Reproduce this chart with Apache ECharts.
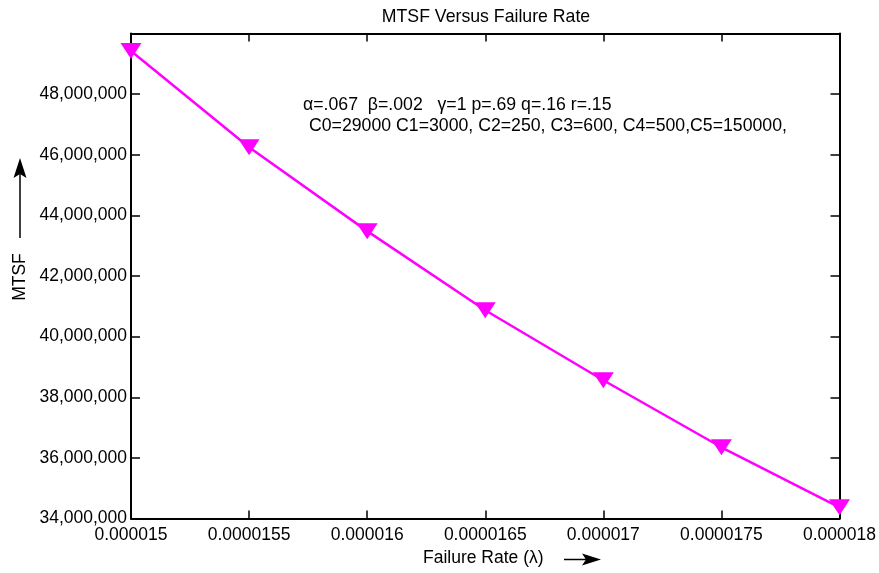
<!DOCTYPE html>
<html>
<head>
<meta charset="utf-8">
<script src="https://cdn.jsdelivr.net/npm/echarts@6/dist/echarts.min.js"></script>
<style>
  html, body { margin: 0; padding: 0; background: #fff; }
  #chart { width: 879px; height: 573px; }
</style>
</head>
<body>
<div id="chart"></div>
<script>
// Failure rate (lambda) values on the x axis
const failureRates = [0.000015, 0.0000155, 0.000016, 0.0000165, 0.000017, 0.0000175, 0.000018];
// Mean time to system failure for each failure rate
const mtsfValues = [49420000, 46250000, 43480000, 40870000, 38560000, 36350000, 34370000];

// Axis ranges and tick spacing
const xRange = [0.000015, 0.000018, 0.0000005];
const yRange = [34000000, 50000000, 2000000];

const titleText = 'MTSF Versus Failure Rate';
const paramLine1 = '\u03b1=.067  \u03b2=.002   \u03b3=1 p=.69 q=.16 r=.15';
const paramLine2 = 'C0=29000 C1=3000, C2=250, C3=600, C4=500,C5=150000,';
const xName = 'Failure Rate (\u03bb)';
const yName = 'MTSF';

const FONT = '"Liberation Sans", Arial, sans-serif';
const FS = 17.5;

function fmtX(v) {
  return v.toFixed(7).replace(/0+$/, '');
}
function fmtY(v) {
  if (v >= yRange[1]) return '';
  return Math.round(v).toLocaleString('en-US');
}

const chart = echarts.init(document.getElementById('chart'), null, { renderer: 'canvas' });

const grid = { left: 131, right: 39, top: 33.5, bottom: 54.5 };

const baseXAxis = {
  type: 'value',
  min: xRange[0],
  max: xRange[1],
  interval: xRange[2],
  splitLine: { show: false },
  axisLine: { show: true, lineStyle: { color: '#000', width: 2 } },
  axisTick: { show: true, inside: true, length: 8, lineStyle: { color: '#000', width: 1.5 } }
};
const baseYAxis = {
  type: 'value',
  min: yRange[0],
  max: yRange[1],
  interval: yRange[2],
  splitLine: { show: false },
  axisLine: { show: true, lineStyle: { color: '#000', width: 2 } },
  axisTick: { show: true, inside: true, length: 9, lineStyle: { color: '#000', width: 1.5 } }
};

chart.setOption({
  backgroundColor: '#fff',
  animation: false,
  title: {
    text: titleText,
    left: 481,
    textAlign: 'center',
    top: 3,
    textStyle: { fontFamily: FONT, fontSize: 17.7, fontWeight: 'normal', color: '#000' }
  },
  grid: grid,
  xAxis: [
    Object.assign({}, baseXAxis, {
      position: 'bottom',
      axisLabel: {
        show: true, margin: 8, color: '#000', fontFamily: FONT, fontSize: FS,
        showMinLabel: true, showMaxLabel: true, formatter: fmtX
      }
    }),
    Object.assign({}, baseXAxis, {
      position: 'top',
      axisLabel: { show: false }
    })
  ],
  yAxis: [
    Object.assign({}, baseYAxis, {
      position: 'left',
      axisLabel: {
        show: true, margin: 4, color: '#000', fontFamily: FONT, fontSize: FS,
        showMinLabel: true, showMaxLabel: true, formatter: fmtY
      }
    }),
    Object.assign({}, baseYAxis, {
      position: 'right',
      axisLabel: { show: false }
    })
  ],
  series: [{
    type: 'line',
    xAxisIndex: 0,
    yAxisIndex: 0,
    data: failureRates.map((x, i) => [x, mtsfValues[i]]),
    symbol: 'triangle',
    symbolRotate: 180,
    symbolSize: [21, 16],
    showAllSymbol: true,
    clip: false,
    lineStyle: { color: '#ff00ff', width: 2.5 },
    itemStyle: { color: '#ff00ff', borderWidth: 0 },
    z: 3
  }],
  graphic: [
    // parameter annotation inside the plot
    {
      type: 'text', left: 303, top: 96,
      style: { text: paramLine1, fontFamily: FONT, fontSize: 17.7, fill: '#000' }
    },
    {
      type: 'text', left: 309, top: 117,
      style: { text: paramLine2, fontFamily: FONT, fontSize: 17.7, fill: '#000' }
    },
    // x axis name with arrow
    {
      type: 'text', left: 423, top: 549,
      style: { text: xName, fontFamily: FONT, fontSize: FS, fill: '#000' }
    },
    {
      type: 'line',
      shape: { x1: 564, y1: 559.5, x2: 590, y2: 559.5 },
      style: { stroke: '#000', lineWidth: 1.5 }
    },
    {
      type: 'polygon',
      shape: { points: [[601, 559.5], [582, 553.5], [586, 559.5], [582, 565.5]] },
      style: { fill: '#000' }
    },
    // y axis name with arrow
    {
      type: 'text', x: 20, y: 277, rotation: Math.PI / 2,
      style: { text: yName, fontFamily: FONT, fontSize: FS, fill: '#000', align: 'center', verticalAlign: 'middle' }
    },
    {
      type: 'line',
      shape: { x1: 20, y1: 238, x2: 20, y2: 170 },
      style: { stroke: '#000', lineWidth: 1.5 }
    },
    {
      type: 'polygon',
      shape: { points: [[20, 158], [13.5, 178], [20, 174], [26.5, 178]] },
      style: { fill: '#000' }
    }
  ]
});
</script>
</body>
</html>
